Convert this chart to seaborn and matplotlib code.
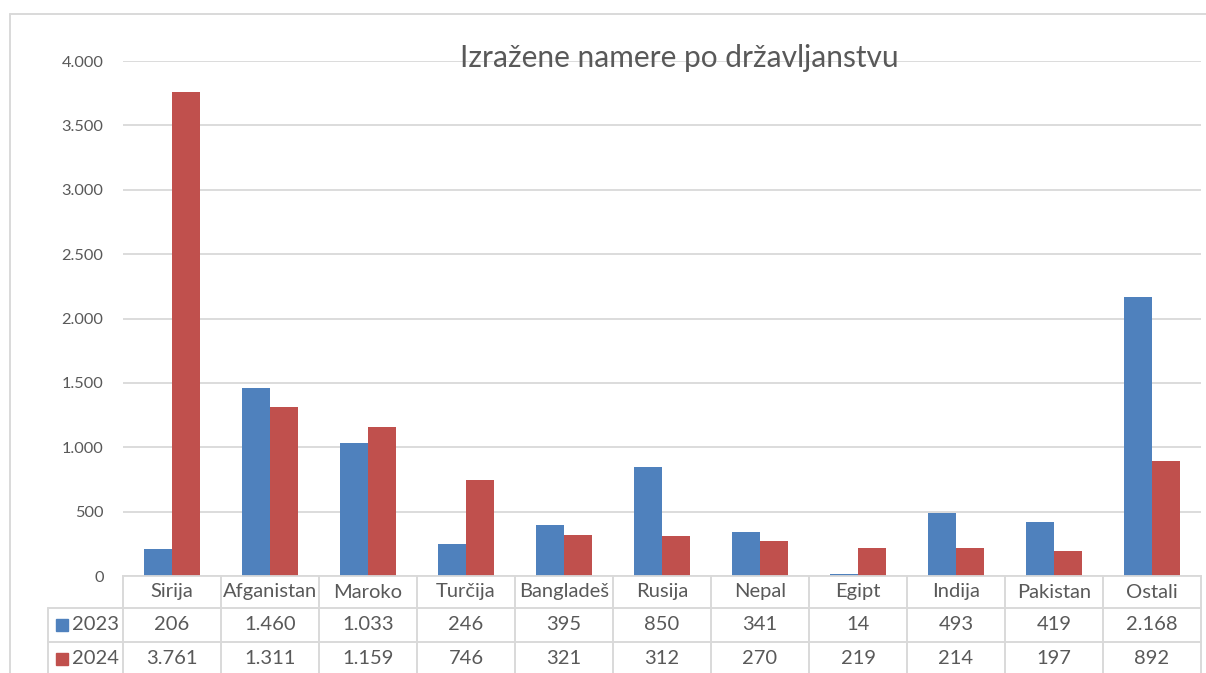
import matplotlib
matplotlib.use("Agg")
import matplotlib.pyplot as plt
import matplotlib.transforms as mtransforms
from matplotlib.lines import Line2D
from matplotlib.patches import Rectangle
import pandas as pd
import seaborn as sns

# data
countries = ["Sirija", "Afganistan", "Maroko", "Turčija", "Bangladeš", "Rusija",
             "Nepal", "Egipt", "Indija", "Pakistan", "Ostali"]
values_2023 = [206, 1460, 1033, 246, 395, 850, 341, 14, 493, 419, 2168]
values_2024 = [3761, 1311, 1159, 746, 321, 312, 270, 219, 214, 197, 892]
years = ["2023", "2024"]
colors = ["#4F81BD", "#C0504D"]
yticks = [0, 500, 1000, 1500, 2000, 2500, 3000, 3500, 4000]

df = pd.DataFrame({
    "Country": countries * 2,
    "Value": values_2023 + values_2024,
    "Year": [years[0]] * len(countries) + [years[1]] * len(countries),
})

sns.set_theme(style="white")
plt.rcParams["font.family"] = ["Lato", "DejaVu Sans"]

W, H = 1206, 673
text_col = "#595959"
line_col = "#D9D9D9"

fig = plt.figure(figsize=(W / 100, H / 100), dpi=100)
# axes placed in pixel terms: left 123, right 1201, top 61, bottom 576
ax = fig.add_axes([123 / W, (H - 576) / H, (1201 - 123) / W, (576 - 61) / H])

sns.barplot(data=df, x="Country", y="Value", hue="Year", palette=colors,
            width=0.57, linewidth=0, saturation=1, legend=False, ax=ax)

ax.set_xlim(-0.5, len(countries) - 0.5)
ax.set_ylim(0, 4000)
ax.set_yticks(yticks)
ax.set_yticklabels([f"{v:,}".replace(",", ".") for v in yticks])
ax.tick_params(axis="y", length=0, pad=14, labelsize=11.8, labelcolor=text_col)
ax.set_xticks([])
ax.set_xlabel("")
ax.set_ylabel("")
ax.grid(axis="y", color=line_col, linewidth=1.3)
ax.set_axisbelow(True)
for side in ["top", "left", "right"]:
    ax.spines[side].set_visible(False)
ax.spines["bottom"].set_color(line_col)
ax.spines["bottom"].set_linewidth(1.3)

fig.text(679 / W, 1 - 58 / H, "Izražene namere po državljanstvu",
         ha="center", va="center", fontsize=21.5, color=text_col)


def fy(py):
    return 1 - py / H


def fx(px):
    return px / W


# outer chart border
fig.add_artist(Line2D([fx(10), 1], [fy(13.5), fy(13.5)], color=line_col, lw=1.4))
fig.add_artist(Line2D([fx(10), fx(10)], [fy(13.5), 0], color=line_col, lw=1.4))

# data table under the axis
trans = mtransforms.blended_transform_factory(ax.transData, fig.transFigure)
n = len(countries)
for y in [608, 642]:
    fig.add_artist(Line2D([fx(48), fx(1201)], [fy(y), fy(y)], color=line_col, lw=1.4))
fig.add_artist(Line2D([fx(48), fx(48)], [fy(608), 0], color=line_col, lw=1.4))
for k in range(n + 1):
    fig.add_artist(Line2D([k - 0.5, k - 0.5], [fy(576), 0], color=line_col, lw=1.4,
                          transform=trans))

for i, c in enumerate(countries):
    fig.text(i, fy(592), c, transform=trans, ha="center", va="center",
             fontsize=14.5, color=text_col)
    for row, vals in zip([625, 659], [values_2023, values_2024]):
        fig.text(i, fy(row), f"{vals[i]:,}".replace(",", "."), transform=trans,
                 ha="center", va="center", fontsize=14.5, color=text_col)

for row, yr, col in zip([625, 659], years, colors):
    fig.add_artist(Rectangle((fx(56), fy(row + 6)), 12 / W, 12 / H, color=col,
                             transform=fig.transFigure))
    fig.text(fx(72), fy(row), yr, ha="left", va="center", fontsize=14.5, color=text_col)

fig.savefig("out.png", dpi=100)
